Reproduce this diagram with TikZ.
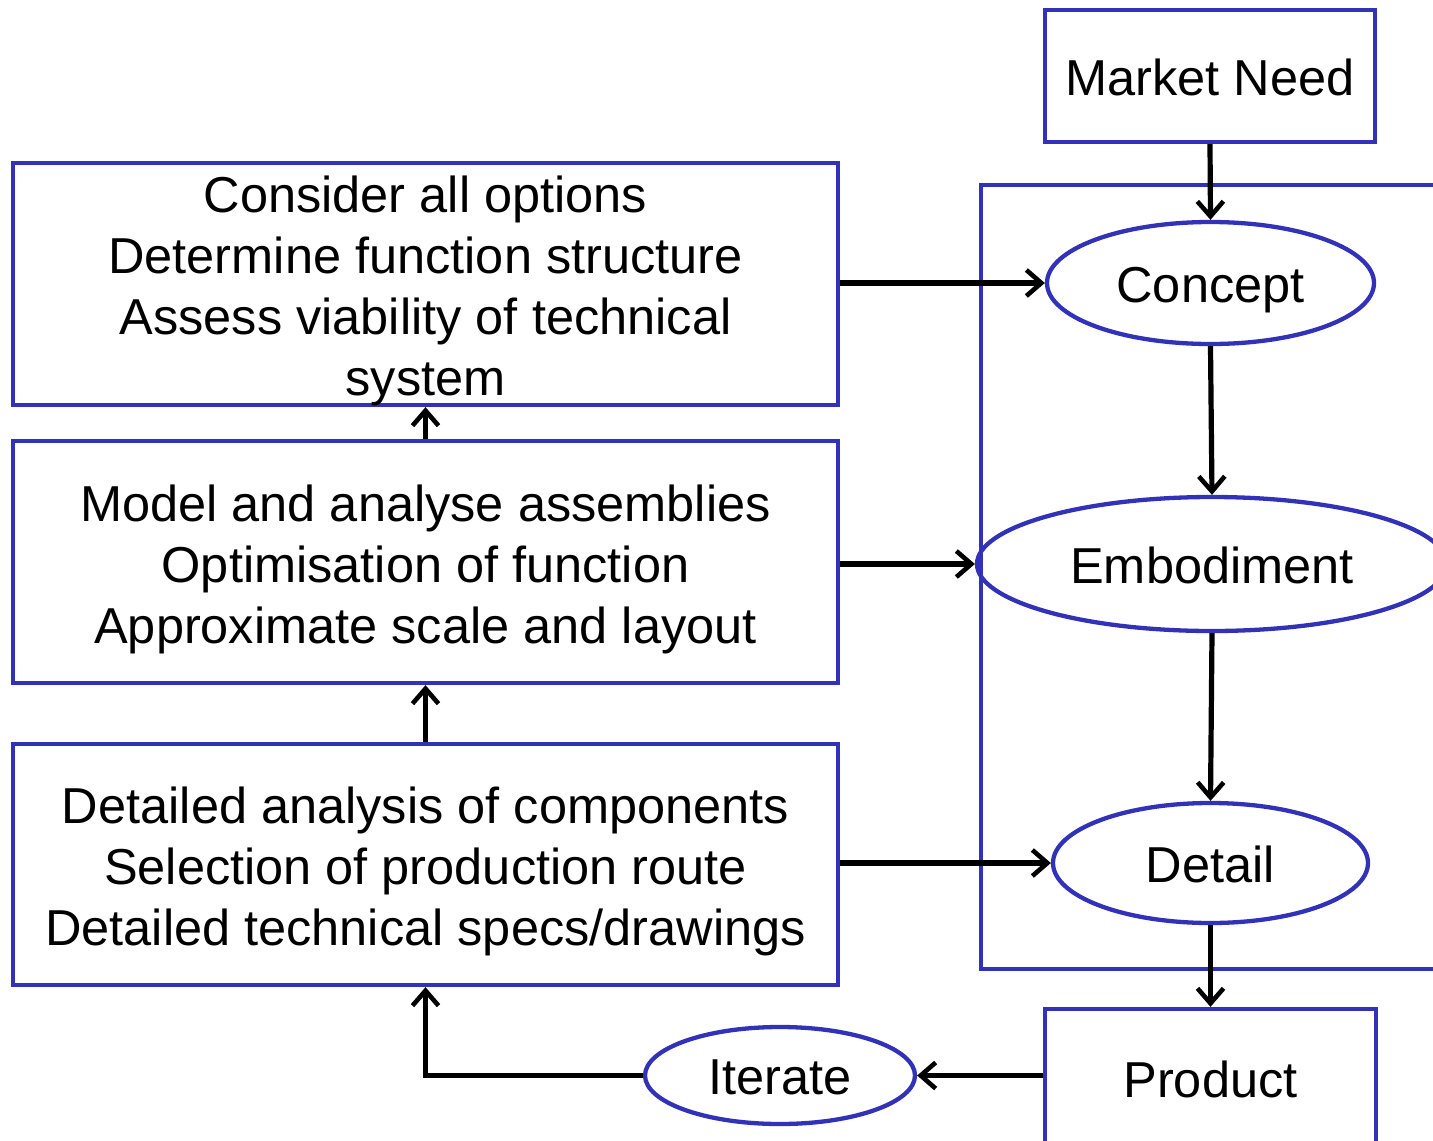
\documentclass[tikz,border=0pt]{standalone}
\usepackage{fontspec}
\setmainfont{Liberation Sans}
\usetikzlibrary{arrows.meta,shapes.geometric}
\definecolor{frameblue}{RGB}{50,50,185}
\begin{document}
\begin{tikzpicture}[x=1pt,y=-1pt,
  bigfont/.style={font=\fontsize{50.5}{61}\selectfont},
  box/.style={draw=frameblue,line width=4.3pt,rectangle,inner sep=0pt,align=center,bigfont,
    text height=38pt,text depth=0pt},
  blank box/.style={draw=frameblue,line width=4.3pt,rectangle,inner sep=0pt},
  boxtext/.style={align=center,bigfont,inner sep=0pt,yshift=-7pt},
  oval/.style={draw=frameblue,line width=4.3pt,ellipse,inner sep=0pt,bigfont,
    text height=38pt,text depth=0pt},
  flow/.style={draw=black,line width=5.2pt,
    -{Straight Barb[length=15pt,width=26pt,line width=4.6pt]}}]
\clip (0,0) rectangle (1433,1141);

% stage frame on the right
\draw[frameblue,line width=4.3pt] (1460,185) -- (981,185) -- (981,969) -- (1460,969);

% design stages
\node[box,minimum width=330pt,minimum height=132pt] (need) at (1210,76) {Market Need};
\node[oval,minimum width=327pt,minimum height=122pt] (concept) at (1210.5,283) {Concept};
\node[oval,minimum width=470pt,minimum height=134pt] (embod) at (1212,564) {Embodiment};
\node[oval,minimum width=315pt,minimum height=120pt] (detail) at (1210.5,863) {Detail};
\node[box,minimum width=331pt,minimum height=138pt] (product) at (1210.5,1078) {Product};
\node[oval,minimum width=270pt,minimum height=97pt] (iterate) at (780,1075.5) {Iterate};

% activity boxes on the left
\node[blank box,minimum width=825pt,minimum height=242pt] (b1) at (425.5,284) {};
\node[boxtext] (b1text) at (b1.center)
  {Consider all options\\Determine function structure\\Assess viability of technical\\system};
\node[blank box,minimum width=825pt,minimum height=242pt] (b2) at (425.5,562) {};
\node[boxtext] (b2text) at (b2.center)
  {Model and analyse assemblies\\Optimisation of function\\Approximate scale and layout};
\node[blank box,minimum width=825pt,minimum height=241pt] (b3) at (425.5,864.5) {};
\node[boxtext] (b3text) at (b3.center)
  {Detailed analysis of components\\Selection of production route\\Detailed technical specs/drawings};

% main sequence
\draw[flow] (need.south) -- (concept.north);
\draw[flow] (concept.south) -- (embod.north);
\draw[flow] (embod.south) -- (detail.north);
\draw[flow] (detail.south) -- (product.north);

% activities feeding the stages
\draw[flow] (b1.east |- concept.west) -- (concept.west);
\draw[flow] (b2.east |- embod.west) -- (embod.west);
\draw[flow] (b3.east |- detail.west) -- (detail.west);

% upward links between activities
\draw[flow] (b2.north) -- (b1.south);
\draw[flow] (b3.north) -- (b2.south);

% iteration loop
\draw[flow] (product.west |- iterate.east) -- (iterate.east);
\draw[flow] (iterate.west) -| (b3.south);
\end{tikzpicture}
\end{document}
